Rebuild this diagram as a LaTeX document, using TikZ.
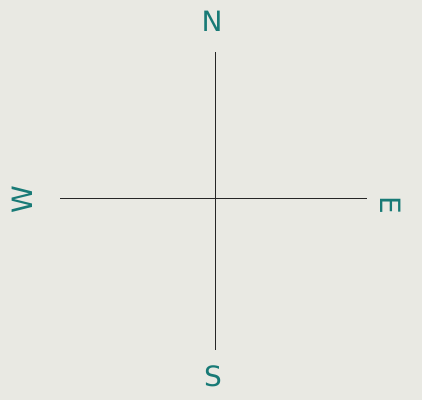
\documentclass[tikz,border=0pt]{standalone}
\usepackage{fontspec}
\setmainfont{DejaVu Sans}
\definecolor{paper}{RGB}{233,233,227}
\definecolor{ink}{RGB}{24,122,118}
\begin{document}
\begin{tikzpicture}[x=1pt,y=-1pt,
  axis/.style={draw=black!85,line width=0.9pt},
  dir/.style={text=ink,font=\fontsize{28}{28}\selectfont,inner sep=0pt}]
\fill[paper] (0,0) rectangle (422,400);
\useasboundingbox (0,0) rectangle (422,400);
\coordinate (c) at (215,198);
\coordinate (top) at (215,52);
\coordinate (bot) at (215,350);
\coordinate (lft) at (60,198);
\coordinate (rgt) at (367,198);
\draw[axis] (top) -- (bot);
\draw[axis] (lft) -- (rgt);
\node[dir] (n) at (212,21) {N};
\node[dir,rotate=-90] (e) at (391,205) {E};
\node[dir,rotate=90] (w) at (22,200) {W};
\node[dir] (s) at (213,376) {S};
\end{tikzpicture}
\end{document}
